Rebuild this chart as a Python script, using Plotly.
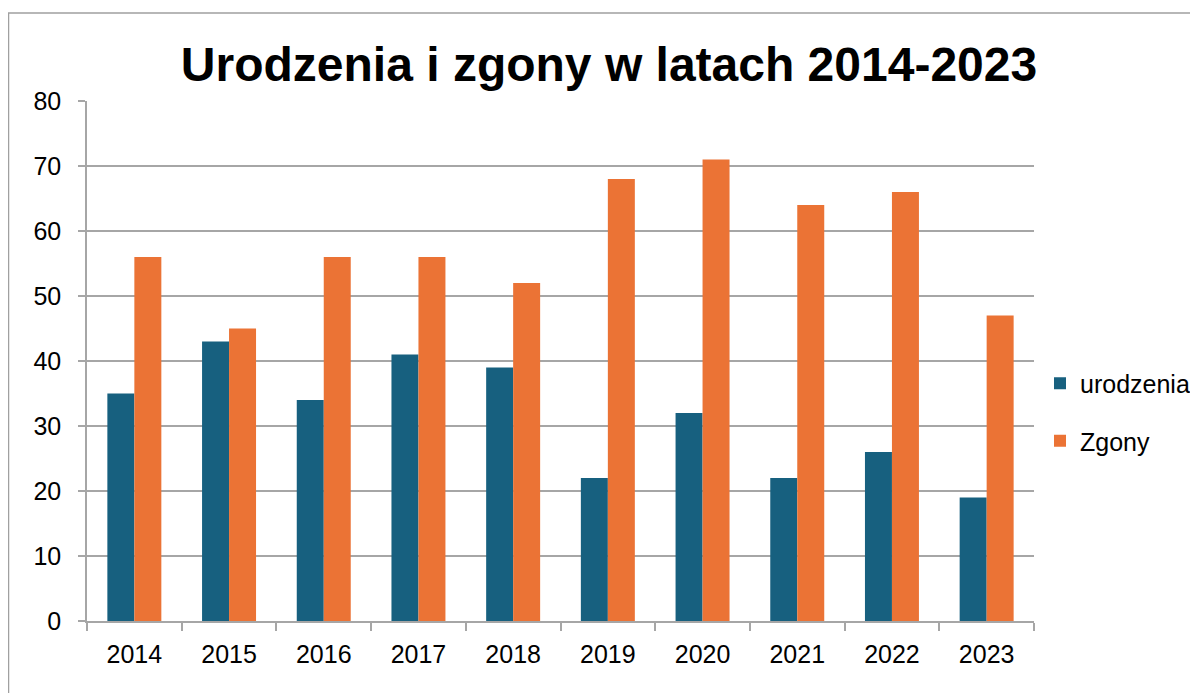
import plotly.graph_objects as go

years = ["2014", "2015", "2016", "2017", "2018", "2019", "2020", "2021", "2022", "2023"]
urodzenia = [35, 43, 34, 41, 39, 22, 32, 22, 26, 19]
zgony = [56, 45, 56, 56, 52, 68, 71, 64, 66, 47]
y_ticks = [0, 10, 20, 30, 40, 50, 60, 70, 80]

# the page body adds an 8px offset; positions below are in figure pixels
OFF = 8
W, H = 1198, 693
L, T = 87 - OFF, 101 - OFF
pr, pb = 1034 - OFF, 621 - OFF
R, B = W - pr, H - pb
pw, ph = pr - L, pb - T

fig = go.Figure()
fig.add_trace(go.Bar(x=years, y=urodzenia, name="urodzenia", legendgroup="a",
                     marker_color="#17607F", marker_line_width=0))
fig.add_trace(go.Bar(x=years, y=zgony, name="Zgony", legendgroup="b",
                     marker_color="#EB7335", marker_line_width=0))

font = "Liberation Sans, Arial, sans-serif"
fig.update_layout(
    width=W, height=H,
    margin=dict(l=L, r=R, t=T, b=B, autoexpand=False),
    paper_bgcolor="white", plot_bgcolor="white",
    barmode="group", bargap=0.43, bargroupgap=0,
    font=dict(family=font, size=25, color="#000000"),
    title=dict(text="<b>Urodzenia i zgony w latach 2014-2023</b>", x=(609 - OFF) / W, xanchor="center",
               y=1 - (64 - OFF) / H, yanchor="middle", font=dict(size=48, family=font, color="#000000")),
    legend=dict(x=(1040 - OFF - L) / pw, xanchor="left", y=(pb - (412 - OFF)) / ph, yanchor="middle",
                font=dict(size=25, family=font), traceorder="grouped", tracegroupgap=22, itemwidth=30,
                bgcolor="rgba(0,0,0,0)"),
    showlegend=True,
)
fig.update_xaxes(type="category", showline=True, linecolor="#A6A6A6", linewidth=1.5,
                 ticks="outside", tickson="boundaries", ticklen=8, tickcolor="#A6A6A6", tickwidth=1.5,
                 showgrid=False, tickfont=dict(size=25, family=font), ticklabelstandoff=10)
fig.update_yaxes(range=[0, 80], tickvals=y_ticks, showline=True, linecolor="#A6A6A6", linewidth=1.5,
                 ticks="outside", ticklen=7, tickcolor="#A6A6A6", tickwidth=1.5,
                 showgrid=True, gridcolor="#A6A6A6", gridwidth=1.5, zeroline=False,
                 tickfont=dict(size=25, family=font), ticklabelstandoff=12)

# outer chart-area border
fig.add_shape(type="rect", xref="paper", yref="paper",
              x0=(0.5 - L) / pw, x1=(W + 10 - L) / pw,
              y0=(pb - (H + 10)) / ph, y1=(pb - (13 - OFF)) / ph,
              line=dict(color="#A0A0A0", width=1.5), fillcolor="rgba(0,0,0,0)", layer="below")

fig.write_html("out.html")
